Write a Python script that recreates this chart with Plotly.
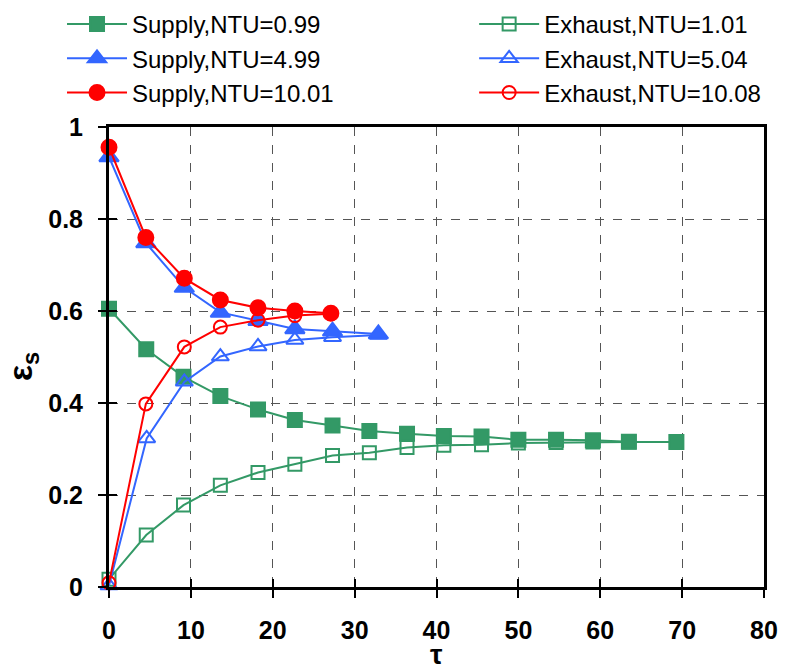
import plotly.graph_objects as go

# ---- data ----
x_s1 = [0, 4.55, 9.1, 13.6, 18.2, 22.7, 27.3, 31.8, 36.4, 40.9, 45.5, 50.0, 54.6, 59.1, 63.5, 69.3]
y_s1 = [0.605, 0.517, 0.457, 0.415, 0.386, 0.363, 0.351, 0.339, 0.333, 0.328, 0.327, 0.320, 0.320, 0.319, 0.316, 0.315]
x_e1 = [0, 4.55, 9.1, 13.6, 18.2, 22.7, 27.3, 31.8, 36.4, 40.9, 45.5, 50.0, 54.6, 59.1, 63.5, 69.3]
y_e1 = [0.017, 0.113, 0.178, 0.221, 0.249, 0.267, 0.286, 0.292, 0.303, 0.308, 0.309, 0.313, 0.314, 0.315, 0.315, 0.315]

x_s5 = [0, 4.5, 9.2, 13.6, 18.2, 22.7, 27.3, 32.9]
y_s5 = [0.935, 0.748, 0.651, 0.597, 0.579, 0.561, 0.556, 0.550]
x_e5 = [0, 4.6, 9.2, 13.6, 18.2, 22.7, 27.3, 32.9]
y_e5 = [0.003, 0.323, 0.446, 0.501, 0.523, 0.537, 0.543, 0.548]

x_s10 = [0, 4.5, 9.2, 13.6, 18.2, 22.7, 27.1]
y_s10 = [0.956, 0.760, 0.671, 0.624, 0.607, 0.600, 0.595]
x_e10 = [0, 4.5, 9.2, 13.6, 18.2, 22.7, 27.1]
y_e10 = [0.009, 0.398, 0.522, 0.565, 0.580, 0.590, 0.594]

x_ticks = [0, 10, 20, 30, 40, 50, 60, 70, 80]
y_ticks = [0, 0.2, 0.4, 0.6, 0.8, 1.0]
y_ticklabels = ["0", "0.2", "0.4", "0.6", "0.8", "1"]

GREEN = "#339966"
BLUE = "#3366FF"
RED = "#FF0000"

fig = go.Figure()

def add(x, y, name, color, symbol, size, legend, group):
    fig.add_trace(go.Scatter(
        x=x, y=y, name=name, mode="lines+markers",
        line=dict(color=color, width=2),
        marker=dict(symbol=symbol, size=size, color=color,
                    line=dict(color=color, width=2)),
        cliponaxis=False, legend=legend, legendgroup=group,
    ))

add(x_e1, y_e1, "Exhaust,NTU=1.01", GREEN, "square-open", 13, "legend2", "e1")
add(x_s1, y_s1, "Supply,NTU=0.99", GREEN, "square", 14, "legend", "s1")
add(x_e5, y_e5, "Exhaust,NTU=5.04", BLUE, "triangle-up-open", 15, "legend2", "e5")
add(x_s5, y_s5, "Supply,NTU=4.99", BLUE, "triangle-up", 17, "legend", "s5")
add(x_e10, y_e10, "Exhaust,NTU=10.08", RED, "circle-open", 13, "legend2", "e10")
add(x_s10, y_s10, "Supply,NTU=10.01", RED, "circle", 15, "legend", "s10")

# invisible helper traces so the overlaid tick-only axes (inner tick halves) are drawn
fig.add_trace(go.Scatter(x=[40], y=[0.5], xaxis="x2", yaxis="y", mode="markers",
                         marker=dict(opacity=0), showlegend=False, hoverinfo="skip"))
fig.add_trace(go.Scatter(x=[40], y=[0.5], xaxis="x", yaxis="y2", mode="markers",
                         marker=dict(opacity=0), showlegend=False, hoverinfo="skip"))

tickfont = dict(family="Liberation Sans", size=25, color="black", weight="bold")
legfont = dict(family="Liberation Sans", size=24, color="black")

fig.update_layout(
    width=785, height=671,
    margin=dict(l=109, r=21, t=127, b=84, autoexpand=False),
    paper_bgcolor="white", plot_bgcolor="white",
    xaxis=dict(range=[0, 80], tickvals=x_ticks, ticks="outside", ticklen=8, tickwidth=2,
               tickcolor="black", showline=True, linecolor="black", linewidth=3,
               mirror=True, showgrid=True, gridcolor="#555555", griddash="dash",
               gridwidth=1, zeroline=False, tickfont=tickfont, ticklabelstandoff=11,
               tickangle=0, automargin=False),
    yaxis=dict(range=[0, 1], tickvals=y_ticks, ticktext=y_ticklabels, ticks="outside",
               ticklen=8, tickwidth=2, tickcolor="black", showline=True, linecolor="black",
               linewidth=3, mirror=True, showgrid=True, gridcolor="#555555",
               griddash="dash", gridwidth=1, zeroline=False, tickfont=tickfont,
               ticklabelstandoff=10, automargin=False),
    xaxis2=dict(range=[0, 80], tickvals=x_ticks, ticks="inside", ticklen=8, tickwidth=2,
                tickcolor="black", overlaying="x", anchor="y", side="bottom",
                showticklabels=False, showgrid=False, showline=False, zeroline=False),
    yaxis2=dict(range=[0, 1], tickvals=y_ticks, ticks="inside", ticklen=8, tickwidth=2,
                tickcolor="black", overlaying="y", anchor="x", side="left",
                showticklabels=False, showgrid=False, showline=False, zeroline=False),
    legend=dict(xref="container", yref="container", x=0.079, y=0.997, xanchor="left",
                yanchor="top", font=legfont, tracegroupgap=0, bgcolor="rgba(0,0,0,0)",
                orientation="v", itemwidth=60),
    legend2=dict(xref="container", yref="container", x=0.604, y=0.997, xanchor="left",
                 yanchor="top", font=legfont, tracegroupgap=0, bgcolor="rgba(0,0,0,0)",
                 orientation="v", itemwidth=60),
    showlegend=True,
    annotations=[
        dict(text="τ", xref="paper", yref="paper", x=0.5, y=-0.1826, xanchor="center",
             yanchor="bottom", showarrow=False, borderpad=0,
             font=dict(family="Liberation Sans", size=28, color="black", weight="bold")),
        dict(text="ε<sub>s</sub>", xref="paper", yref="paper", x=-0.133, y=0.48,
             xanchor="center", yanchor="middle", textangle=-90, showarrow=False,
             font=dict(family="Liberation Sans", size=34, color="black", weight="bold")),
    ],
)

fig.write_html("out.html")
